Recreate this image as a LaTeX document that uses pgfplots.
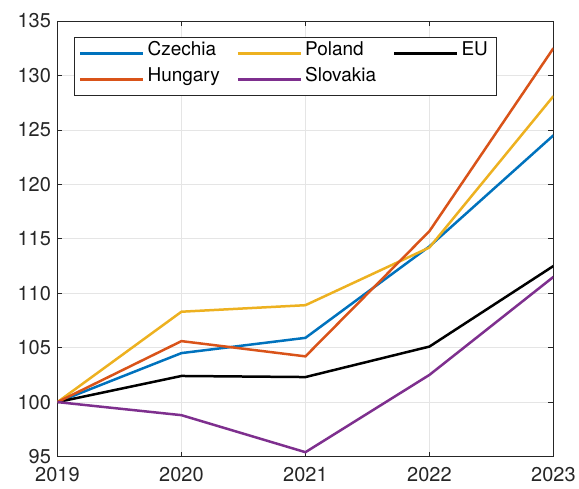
\documentclass[border=0pt]{standalone}
\usepackage{pgfplots}
\pgfplotsset{compat=1.18}
\usepackage{fontspec}
\setmainfont{TeX Gyre Heros}
\definecolor{c1}{rgb}{0,0.447,0.741}
\definecolor{c2}{rgb}{0.85,0.325,0.098}
\definecolor{c3}{rgb}{0.929,0.694,0.125}
\definecolor{c4}{rgb}{0.494,0.184,0.556}
\definecolor{axc}{rgb}{0.15,0.15,0.15}
\begin{document}
\begin{tikzpicture}
\begin{axis}[
  name=ax,
  scale only axis, width=496.5pt, height=436pt,
  xmin=2019, xmax=2023, ymin=95, ymax=135,
  xtick={2019,2020,2021,2022,2023},
  ytick={95,100,...,135},
  /pgf/number format/1000 sep={},
  /pgf/number format/assume math mode=true,
  tick label style={font=\fontsize{20}{22}\selectfont, color=axc},
  yticklabel style={xshift=-3pt},
  xticklabel style={yshift=-7pt},
  tick align=inside, tick pos=both,
  major tick length=5pt,
  axis line style={axc, line width=0.6pt},
  every tick/.style={axc, line width=0.6pt},
  grid=major, major grid style={gray!20, line width=0.6pt},
  legend columns=3,
  legend style={at={(0.0332,0.9626)}, anchor=north west, draw=axc, line width=0.6pt,
    font=\fontsize{19}{21}\selectfont, inner xsep=5pt, inner ysep=3pt,
    row sep=0pt,
    nodes={inner xsep=3pt, inner ysep=0pt, text height=15pt, text depth=11pt},
    /tikz/every even column/.append style={column sep=14pt}},
  legend cell align=left,
  legend image code/.code={\draw[#1, line width=2.5pt] (0pt,0pt) -- (63pt,0pt);},
  every axis plot/.append style={line width=2.5pt},
]
\addplot[c1] coordinates {(2019,100) (2020,104.5) (2021,105.9) (2022,114.3) (2023,124.5)};
\addlegendentry{Czechia}
\addplot[c3] coordinates {(2019,100) (2020,108.3) (2021,108.9) (2022,114.2) (2023,128.1)};
\addlegendentry{Poland}
\addplot[black] coordinates {(2019,100) (2020,102.4) (2021,102.3) (2022,105.1) (2023,112.5)};
\addlegendentry{EU}
\addplot[c2] coordinates {(2019,100) (2020,105.6) (2021,104.2) (2022,115.7) (2023,132.5)};
\addlegendentry{Hungary}
\addplot[c4] coordinates {(2019,100) (2020,98.8) (2021,95.4) (2022,102.5) (2023,111.5)};
\addlegendentry{Slovakia}
\end{axis}
\useasboundingbox ([xshift=-57.5pt,yshift=-32pt]ax.south west) rectangle ([xshift=25pt,yshift=21pt]ax.north east);
\end{tikzpicture}
\end{document}
